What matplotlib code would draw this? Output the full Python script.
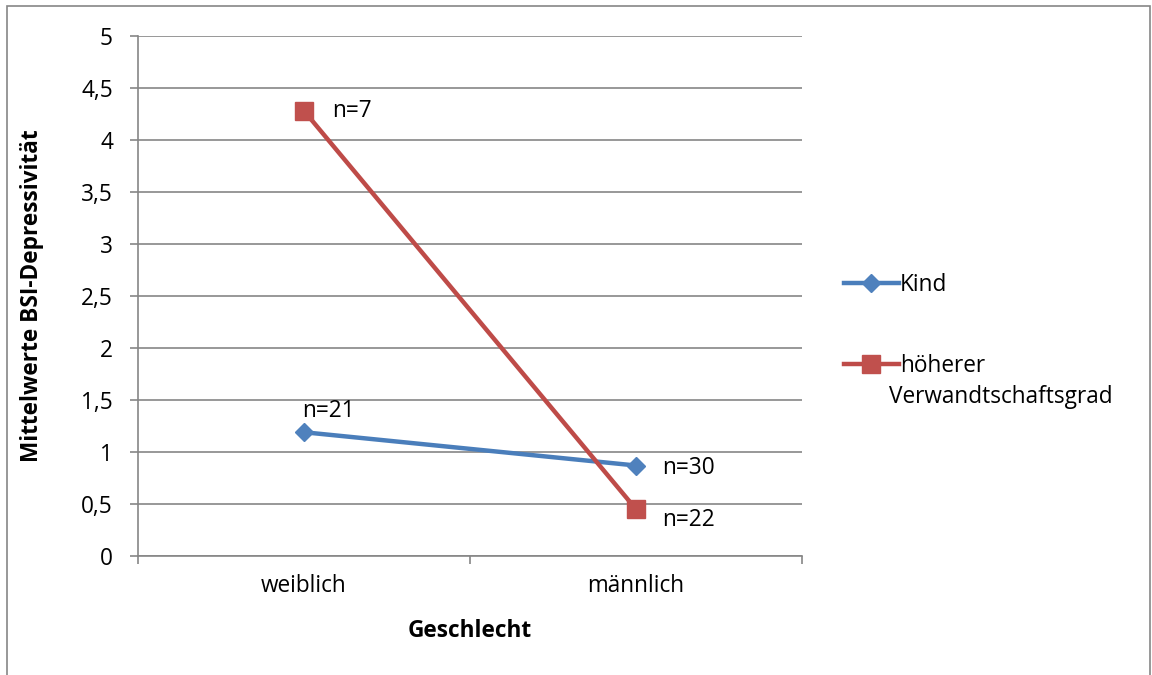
import numpy as np
import matplotlib
matplotlib.use('Agg')
import matplotlib.pyplot as plt
from matplotlib.patches import Rectangle

# data
categories = ['weiblich', 'männlich']
kind_vals = [1.19, 0.87]
hoeher_vals = [4.28, 0.45]
kind_n = ['n=21', 'n=30']
hoeher_n = ['n=7', 'n=22']
yticks = [0, 0.5, 1, 1.5, 2, 2.5, 3, 3.5, 4, 4.5, 5]
ytick_labels = ['0', '0,5', '1', '1,5', '2', '2,5', '3', '3,5', '4', '4,5', '5']

plt.rcParams['font.family'] = ['Open Sans', 'DejaVu Sans']
fs = 16.3
grey = '#868686'

fig = plt.figure(figsize=(11.52, 6.75), dpi=100)
ax = fig.add_axes([138 / 1152, 1 - 556 / 675, 664 / 1152, 520 / 675])

# outer chart border
fig.patches.append(Rectangle((7 / 1152, -0.05), 1143 / 1152, 1.05 - 6 / 675,
                             transform=fig.transFigure, fill=False,
                             edgecolor=grey, linewidth=1.2))

x = np.arange(len(categories))
ax.plot(x, kind_vals, color='#4A7EBB', linewidth=3.2, marker='D', markersize=9,
        markerfacecolor='#4F81BD', markeredgecolor='#4F81BD', label='Kind', zorder=3)
ax.plot(x, hoeher_vals, color='#BE4B48', linewidth=3.2, marker='s', markersize=13,
        markerfacecolor='#C0504D', markeredgecolor='#C0504D',
        label='höherer', zorder=4)

# n labels
ax.annotate(kind_n[0], (x[0], kind_vals[0]), xytext=(-1, 15), textcoords='offset points',
            ha='left', va='center', fontsize=fs)
ax.annotate(kind_n[1], (x[1], kind_vals[1]), xytext=(19, -1.5), textcoords='offset points',
            ha='left', va='center', fontsize=fs)
ax.annotate(hoeher_n[0], (x[0], hoeher_vals[0]), xytext=(20, 0), textcoords='offset points',
            ha='left', va='center', fontsize=fs)
ax.annotate(hoeher_n[1], (x[1], hoeher_vals[1]), xytext=(19, -7.5), textcoords='offset points',
            ha='left', va='center', fontsize=fs)

ax.set_xlim(-0.5, 1.5)
ax.set_ylim(0, 5)
ax.set_yticks(yticks)
ax.set_yticklabels(ytick_labels, fontsize=fs)
ax.yaxis.grid(True, color=grey, linewidth=1.2)
ax.set_axisbelow(True)

ax.set_xticks([-0.5, 0.5, 1.5])
ax.set_xticklabels([])
ax.set_xticks(x, minor=True)
ax.set_xticklabels(categories, minor=True, fontsize=fs)
ax.tick_params(axis='x', which='minor', length=0, pad=13)
ax.tick_params(axis='x', which='major', length=6, color=grey, width=1.2)
ax.tick_params(axis='y', length=6, color=grey, width=1.2, pad=12)

for s in ['top', 'right']:
    ax.spines[s].set_visible(False)
for s in ['left', 'bottom']:
    ax.spines[s].set_color(grey)
    ax.spines[s].set_linewidth(1.2)

ax.set_ylabel('Mittelwerte BSI-Depressivität', fontsize=fs, fontweight='bold')
ax.yaxis.set_label_coords(-0.16, 0.5)
ax.set_xlabel('Geschlecht', fontsize=fs, fontweight='bold')
ax.xaxis.set_label_coords(0.5, -0.144)

ax.xaxis.label.set_va('center')
ax.yaxis.label.set_va('center')

leg = ax.legend(loc='upper left', bbox_to_anchor=(833 / 1152, 1 - 262 / 675),
                bbox_transform=fig.transFigure, frameon=False, fontsize=fs,
                handlelength=2.4, handletextpad=0.05, labelspacing=2.52,
                borderpad=0)
fig.text(889 / 1152, 1 - 397 / 675, 'Verwandtschaftsgrad', fontsize=fs,
         ha='left', va='center')

fig.savefig('out.png', dpi=100)
